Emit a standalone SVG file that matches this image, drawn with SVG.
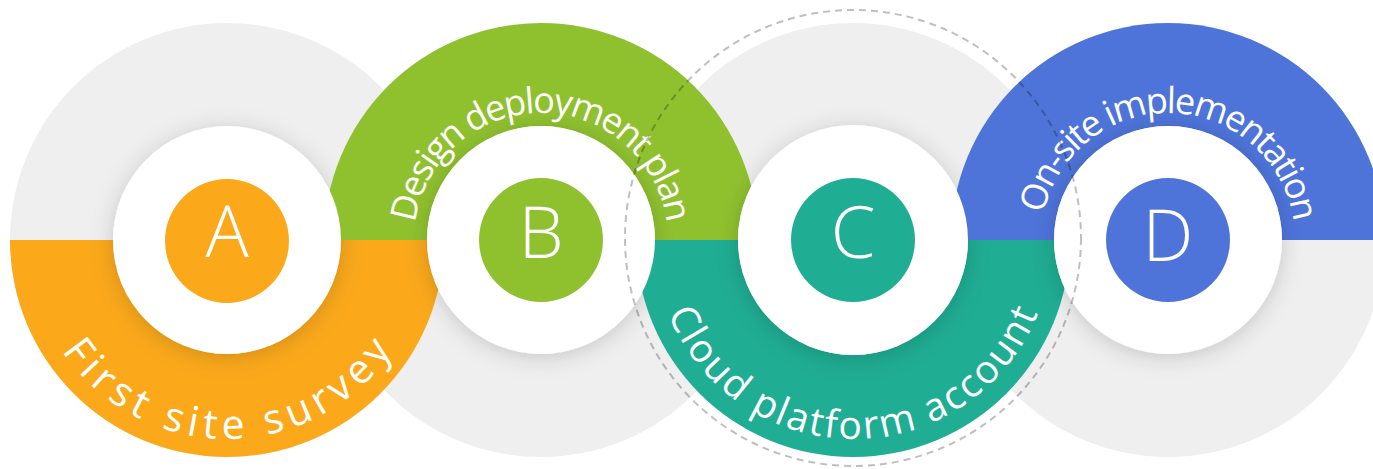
<svg xmlns="http://www.w3.org/2000/svg" width="1373" height="469" viewBox="0 0 1373 469">
  <style>
    .gray { fill: #efefef; }
    .inner { fill: #ffffff; filter: url(#sh); }
    .label { font-family: "Open Sans", "Noto Sans", sans-serif; fill: #ffffff; }
    .top { font-size: 36px; }
    .bottom { font-size: 39px; }
    .big { font-size: 41px; }
    .letter { font-family: "Open Sans", "Noto Sans", sans-serif; font-size: 72px; font-weight: 300; fill: #ffffff; text-anchor: middle; }
    .half { mask: url(#holes); }
  </style>
  <defs>
    <filter id="sh" x="-30%" y="-30%" width="160%" height="160%">
      <feDropShadow dx="0" dy="3" stdDeviation="11" flood-color="#000" flood-opacity="0.17"/>
    </filter>
    <mask id="holes" maskUnits="userSpaceOnUse" x="0" y="0" width="1373" height="469">
      <rect x="0" y="0" width="1373" height="469" fill="#fff"/>
      <circle cx="227" cy="240" r="114" fill="#000"/>
      <circle cx="541" cy="240" r="114" fill="#000"/>
      <circle cx="853" cy="240" r="115" fill="#000"/>
      <circle cx="1168" cy="240" r="114" fill="#000"/>
    </mask>
    <path id="pA" d="M 28 240 A 199 199 0 0 0 426 240"/>
    <path id="pB" d="M 414 240 A 127 127 0 0 1 668 240"/>
    <path id="pC" d="M 654 240 A 199 199 0 0 0 1052 240"/>
    <path id="pD" d="M 1041 240 A 127 127 0 0 1 1295 240"/>
  </defs>

  <g id="backdrop">
    <circle class="gray" cx="227" cy="240" r="217"/>
    <circle class="gray" cx="541" cy="240" r="217"/>
    <circle class="gray" cx="853" cy="240" r="217"/>
    <circle class="gray" cx="1168" cy="240" r="217"/>
  </g>

  <g id="node-A">
    <path class="half" d="M 10 240 A 217 217 0 0 0 444 240 Z" fill="#fba91b"/>
    <circle class="inner" cx="227" cy="240" r="114"/>
    <circle cx="227" cy="241" r="62" fill="#fba91b"/>
    <text class="letter" x="227" y="257">A</text>
    <text class="label big"><textPath href="#pA" startOffset="50%" text-anchor="middle" textLength="390" lengthAdjust="spacing">First site survey</textPath></text>
  </g>

  <g id="node-B">
    <path class="half" d="M 324 240 A 217 217 0 0 1 758 240 Z" fill="#8fc12f"/>
    <circle class="inner" cx="541" cy="240" r="114"/>
    <circle cx="541" cy="240" r="62" fill="#8fc12f"/>
    <text class="letter" x="541" y="258">B</text>
    <text class="label top"><textPath href="#pB" startOffset="50%" text-anchor="middle" textLength="365" lengthAdjust="spacing">Design deployment plan</textPath></text>
  </g>

  <g id="node-C">
    <path class="half" d="M 636 240 A 217 217 0 0 0 1070 240 Z" fill="#1fad93"/>
    <circle class="inner" cx="853" cy="240" r="115"/>
    <circle cx="853" cy="240" r="62" fill="#1fad93"/>
    <text class="letter" x="853" y="258">C</text>
    <text class="label bottom"><textPath href="#pC" startOffset="50%" text-anchor="middle" textLength="475" lengthAdjust="spacing">Cloud platform account</textPath></text>
  </g>

  <g id="node-D">
    <path class="half" d="M 951 240 A 217 217 0 0 1 1385 240 Z" fill="#4e74da"/>
    <circle class="inner" cx="1168" cy="240" r="114"/>
    <circle cx="1168" cy="240" r="62" fill="#4e74da"/>
    <text class="letter" x="1168" y="261">D</text>
    <text class="label top"><textPath href="#pD" startOffset="51%" text-anchor="middle" textLength="355" lengthAdjust="spacing">On-site implementation</textPath></text>
  </g>

  <g id="connectors">
    <circle cx="853" cy="238" r="228" fill="none" stroke="#000" stroke-opacity="0.25" stroke-width="2" stroke-dasharray="7 5"/>
  </g>
</svg>
